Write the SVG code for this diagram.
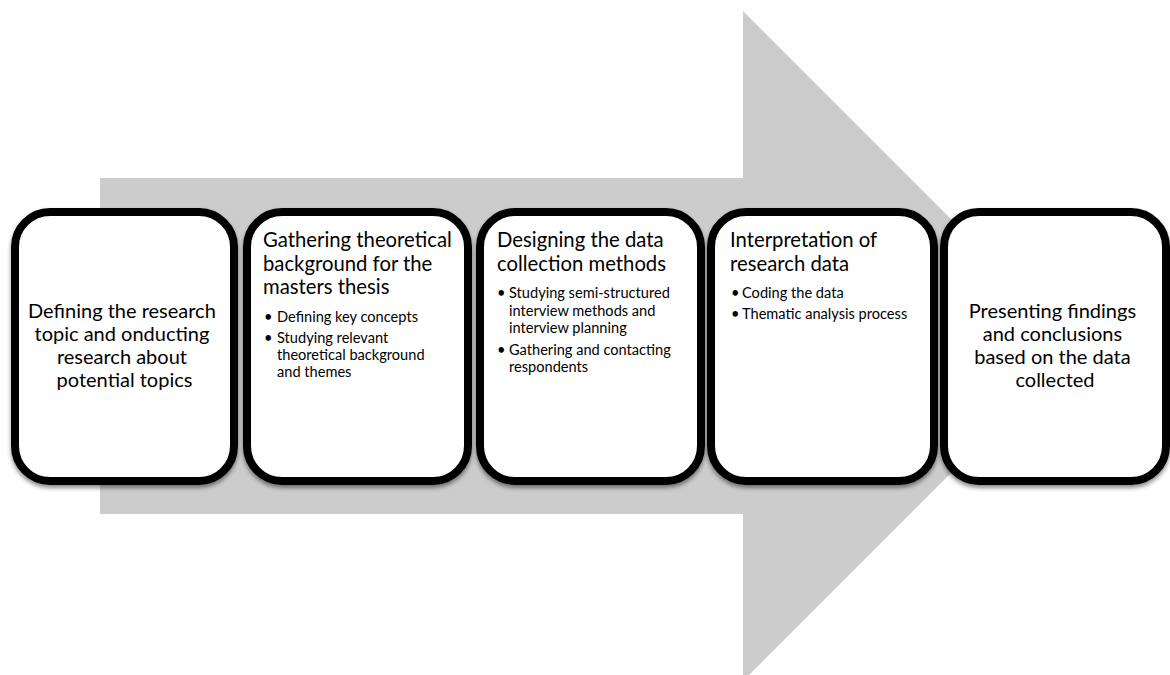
<svg xmlns="http://www.w3.org/2000/svg" width="1170" height="675" viewBox="0 0 1170 675">
  <defs>
    <filter id="shadow" x="-10%" y="-10%" width="120%" height="120%">
      <feDropShadow dx="0" dy="3" stdDeviation="2" flood-color="#000" flood-opacity="0.45"/>
    </filter>
    <style>
      .step { fill: #ffffff; stroke: #000000; stroke-width: 8; filter: url(#shadow); }
      .txt { font-family: Lato, "Open Sans", "Liberation Sans", sans-serif; fill: #000000; }
      .center { font-size: 20px; text-anchor: middle; }
      .title { font-size: 20.3px; }
      .bullet { font-size: 14.6px; }
    </style>
  </defs>
  <rect width="1170" height="675" fill="#ffffff"/>

  <!-- Background process arrow -->
  <g id="process-arrow">
    <polygon points="100,178 743,178 743,11 1078,346 743,681 743,514 100,514" fill="#cccccc"/>
  </g>

  <g id="connectors"></g>

  <g id="step1">
    <rect class="step" x="15" y="212" width="219" height="269" rx="35"/>
    <text class="txt center">
      <tspan x="124.5" y="318">Defining the research</tspan>
      <tspan x="124.5" y="341">topic and onducting</tspan>
      <tspan x="124.5" y="364">research about</tspan>
      <tspan x="124.5" y="387">potential topics</tspan>
    </text>
  </g>

  <g id="step2">
    <rect class="step" x="247" y="212" width="221" height="269" rx="35"/>
    <text class="txt title">
      <tspan x="263" y="247">Gathering theoretical</tspan>
      <tspan x="263" y="271">background for the</tspan>
      <tspan x="263" y="294">masters thesis</tspan>
    </text>
    <text class="txt bullet">
      <tspan x="264" y="322">•</tspan><tspan x="277" y="322">Defining key concepts</tspan>
      <tspan x="264" y="343">•</tspan><tspan x="277" y="343">Studying relevant</tspan>
      <tspan x="277" y="360">theoretical background</tspan>
      <tspan x="277" y="377">and themes</tspan>
    </text>
  </g>

  <g id="step3">
    <rect class="step" x="480" y="212" width="221" height="269" rx="35"/>
    <text class="txt title">
      <tspan x="497" y="247">Designing the data</tspan>
      <tspan x="497" y="271">collection methods</tspan>
    </text>
    <text class="txt bullet">
      <tspan x="497" y="298">•</tspan><tspan x="509" y="298">Studying semi-structured</tspan>
      <tspan x="509" y="316">interview methods and</tspan>
      <tspan x="509" y="333">interview planning</tspan>
      <tspan x="497" y="355">•</tspan><tspan x="509" y="355">Gathering and contacting</tspan>
      <tspan x="509" y="372">respondents</tspan>
    </text>
  </g>

  <g id="step4">
    <rect class="step" x="711" y="212" width="223" height="269" rx="35"/>
    <text class="txt title">
      <tspan x="730" y="247">Interpretation of</tspan>
      <tspan x="730" y="271">research data</tspan>
    </text>
    <text class="txt bullet">
      <tspan x="731" y="298">•</tspan><tspan x="742" y="298">Coding the data</tspan>
      <tspan x="731" y="319">•</tspan><tspan x="742" y="319">Thematic analysis process</tspan>
    </text>
  </g>

  <g id="step5">
    <rect class="step" x="944" y="212" width="222" height="269" rx="35"/>
    <text class="txt center">
      <tspan x="1055" y="318">Presenting findings</tspan>
      <tspan x="1055" y="341">and conclusions</tspan>
      <tspan x="1055" y="364">based on the data</tspan>
      <tspan x="1055" y="387">collected</tspan>
    </text>
  </g>
</svg>
